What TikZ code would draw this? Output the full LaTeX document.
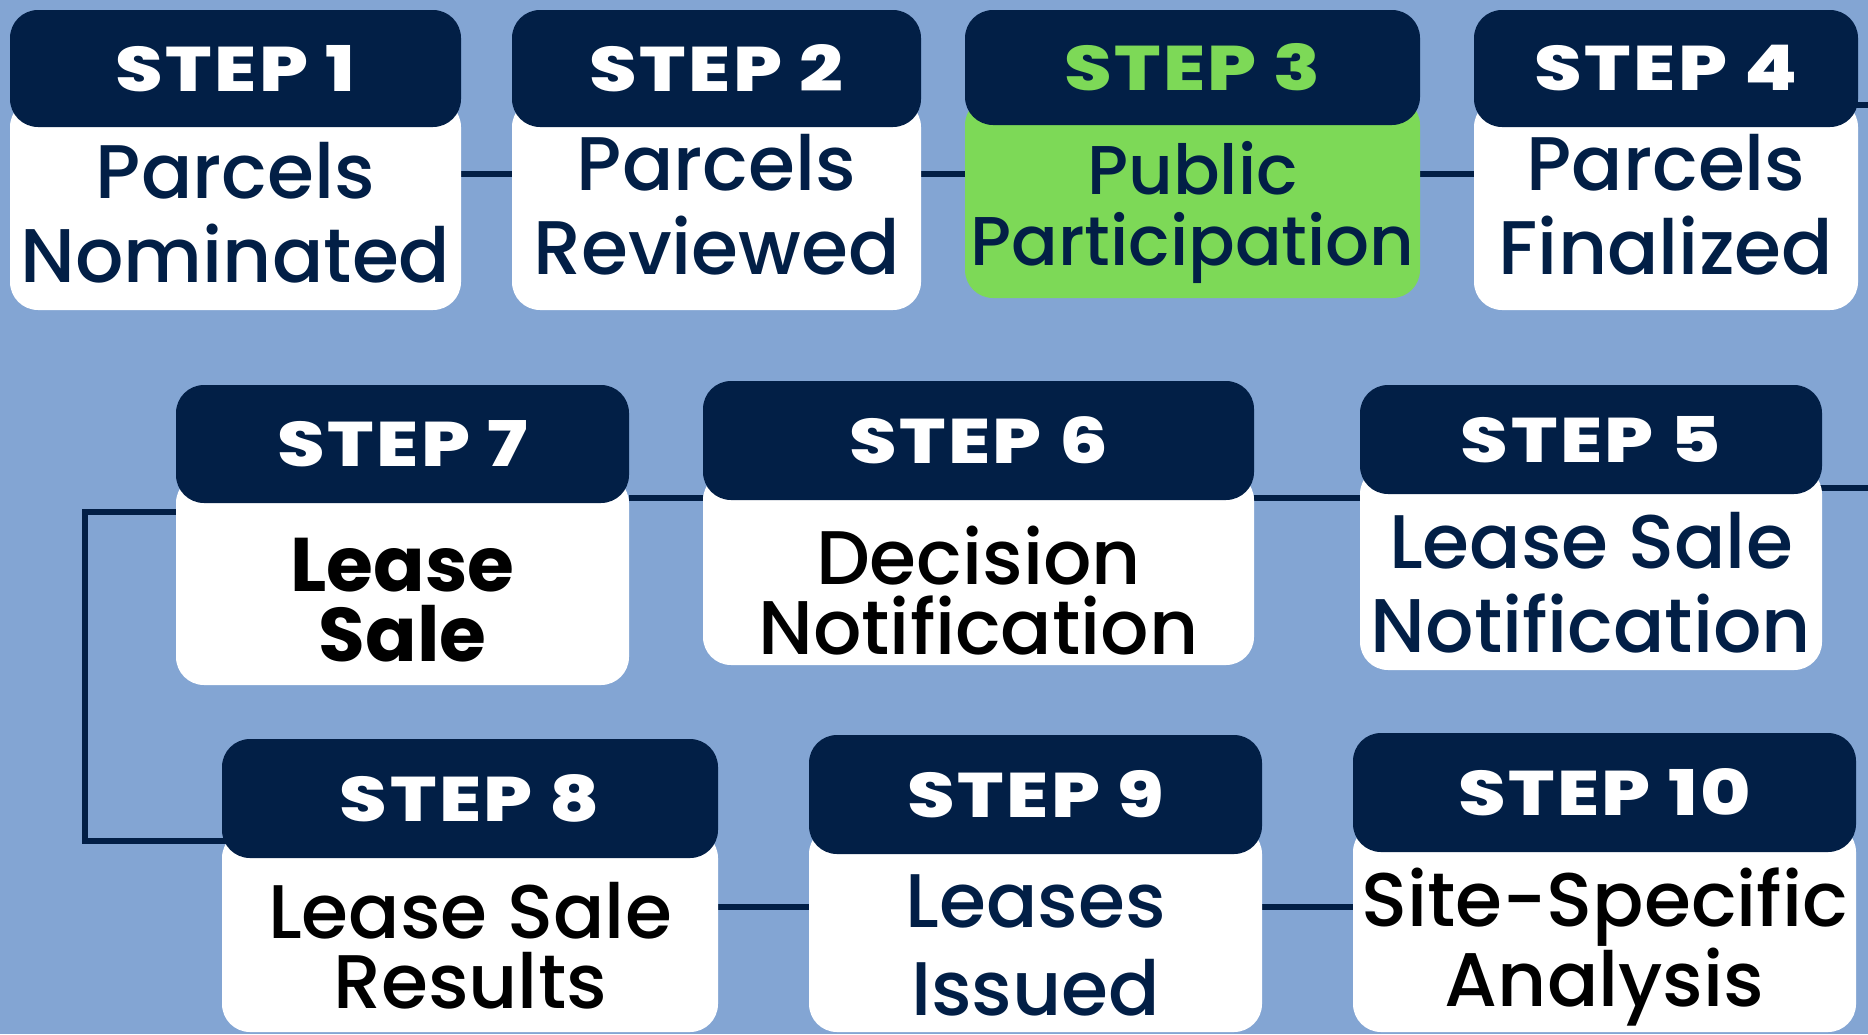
\documentclass[tikz,border=0pt]{standalone}
\usepackage{fontspec}
\IfFontExistsTF{Poppins ExtraBold}
    {\newfontfamily\stepfont{Poppins}[UprightFont=* ExtraBold, FakeStretch=1.22, LetterSpace=4]}
    {\newfontfamily\stepfont{Poppins}[UprightFont=* Bold, FakeStretch=1.22, LetterSpace=6]}
\newfontfamily\bodyfont{Poppins}[UprightFont=* Medium, BoldFont=* Bold]
\usetikzlibrary{positioning}
\definecolor{bgBlue}{RGB}{131,165,211}
\definecolor{navy}{RGB}{2,31,70}
\definecolor{leafGreen}{RGB}{125,217,87}
\pgfdeclarelayer{bg}
\pgfdeclarelayer{links}
\pgfsetlayers{bg,links,main}

\begin{document}
\begin{tikzpicture}[x=1pt, y=-1pt,
    card/.style={fill=white, rounded corners=28pt, inner sep=0pt},
    head/.style={fill=navy, rounded corners=28pt, inner sep=0pt, text=white,
        font=\stepfont\fontsize{63}{63}\selectfont},
    lbl/.style={align=center, text=navy, font=\bodyfont\fontsize{76}{84}\selectfont},
    tight/.style={lbl, font=\bodyfont\fontsize{76}{70}\selectfont},
    link/.style={draw=navy, line width=6pt}]
    \useasboundingbox (0,0) rectangle (1868,1034);
    \begin{pgfonlayer}{bg}
        \fill[bgBlue] (0,0) rectangle (1868,1034);
    \end{pgfonlayer}

    % Row 1
    \node[card, minimum width=451pt, minimum height=211pt] (s1) at (235.5,204.5) {};
    \node[head, minimum width=451pt, minimum height=117pt] (h1) at (235.5,68.5) {STEP 1};
    \node[lbl] (t1) at (235.5,213) {Parcels\\Nominated};

    \node[card, minimum width=409pt, minimum height=211pt] (s2) at (716.5,204.5) {};
    \node[head, minimum width=409pt, minimum height=117pt] (h2) at (716.5,68.5) {STEP 2};
    \node[lbl] (t2) at (716.5,205) {Parcels\\Reviewed};

    \node[card, fill=leafGreen, minimum width=455pt, minimum height=201pt] (s3) at (1192.5,197.5) {};
    \node[head, text=leafGreen, minimum width=455pt, minimum height=115pt] (h3) at (1192.5,67.5) {STEP 3};
    \node[tight, font=\bodyfont\fontsize{69}{71}\selectfont] (t3) at (1192.5,212) {Public\\Participation};

    \node[card, minimum width=384pt, minimum height=211pt] (s4) at (1666,204.5) {};
    \node[head, minimum width=384pt, minimum height=117pt] (h4) at (1666,68.5) {STEP 4};
    \node[lbl] (t4) at (1666,205) {Parcels\\Finalized};

    % Row 2
    \node[card, minimum width=453pt, minimum height=210pt] (s7) at (402.5,580) {};
    \node[head, minimum width=453pt, minimum height=118pt] (h7) at (402.5,444) {STEP 7};
    \node[tight, text=black, font=\bodyfont\bfseries\fontsize{76}{70}\selectfont] (t7) at (402.5,600) {Lease\\Sale};

    \node[card, minimum width=551pt, minimum height=193pt] (s6) at (978.5,568.5) {};
    \node[head, minimum width=551pt, minimum height=119pt] (h6) at (978.5,440.5) {STEP 6};
    \node[tight, text=black] (t6) at (978.5,591) {Decision\\Notification};

    \node[card, minimum width=462pt, minimum height=204pt] (s5) at (1591,568) {};
    \node[head, minimum width=462pt, minimum height=109pt] (h5) at (1591,439.5) {STEP 5};
    \node[lbl] (t5) at (1591,583) {Lease Sale\\Notification};

    % Row 3
    \node[card, minimum width=496pt, minimum height=202pt] (s8) at (470,931) {};
    \node[head, minimum width=496pt, minimum height=119pt] (h8) at (470,798.5) {STEP 8};
    \node[tight, text=black] (t8) at (470,946) {Lease Sale\\Results};

    \node[card, minimum width=453pt, minimum height=206pt] (s9) at (1035.5,929) {};
    \node[head, minimum width=453pt, minimum height=119pt] (h9) at (1035.5,794.5) {STEP 9};
    \node[lbl, font=\bodyfont\fontsize{76}{88}\selectfont] (t9) at (1035.5,945) {Leases\\Issued};

    \node[card, minimum width=503pt, minimum height=208pt] (s10) at (1604.5,928) {};
    \node[head, minimum width=503pt, minimum height=119pt] (h10) at (1604.5,792.5) {STEP 10};
    \node[tight, text=black, font=\bodyfont\fontsize{76}{66}\selectfont] (t10) at (1604.5,947) {Site-Specific\\Analysis};

    % connectors behind the cards
    \coordinate (r1) at (0,174);
    \coordinate (r2) at (0,498);
    \coordinate (r3) at (0,907);
    \coordinate (e4) at (1868,105);
    \coordinate (e5) at (1868,488);
    \coordinate (k7) at (85,512);
    \coordinate (k8) at (85,841);
    \begin{pgfonlayer}{links}
        \draw[link] (s1.east |- r1) -- (s2.west |- r1);
        \draw[link] (s2.east |- r1) -- (s3.west |- r1);
        \draw[link] (s3.east |- r1) -- (s4.west |- r1);
        \draw[link] (h4.center |- e4) -- (e4);
        \draw[link] (h5.center |- e5) -- (e5);
        \draw[link] (s5.west |- r2) -- (s6.east |- r2);
        \draw[link] (s6.west |- r2) -- (s7.east |- r2);
        \draw[link] (s7.center |- k7) -- (k7) -- (k8) -- (h8.center |- k8);
        \draw[link] (s8.east |- r3) -- (s9.west |- r3);
        \draw[link] (s9.east |- r3) -- (s10.west |- r3);
    \end{pgfonlayer}
\end{tikzpicture}
\end{document}
